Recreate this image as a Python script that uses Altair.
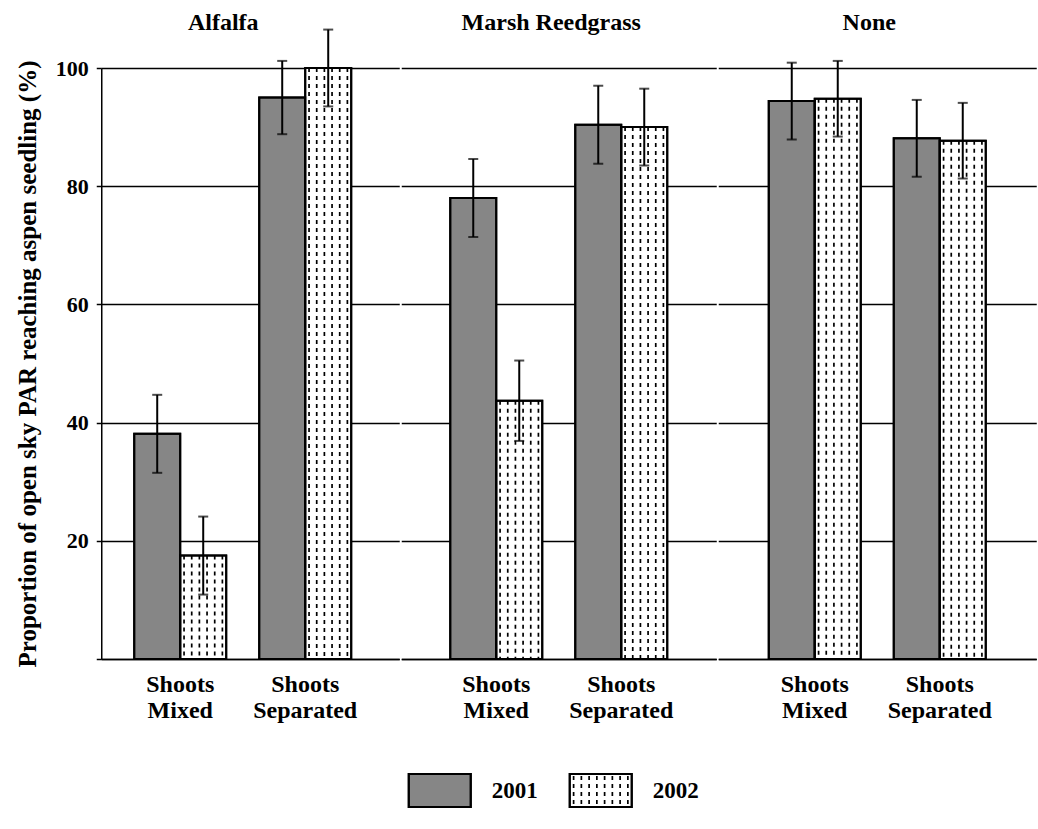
import altair as alt
import pandas as pd

# ---- data -------------------------------------------------------------
groups = ["Alfalfa", "Marsh Reedgrass", "None"]
treatments = ["Shoots Mixed", "Shoots Separated"]
years = ["2001", "2002"]

# mean proportion of open-sky PAR (%), ordered group -> treatment -> year
par_mean = [38.1, 17.5, 95.0, 100.0,
            78.0, 43.7, 90.4, 90.0,
            94.4, 94.8, 88.1, 87.7]
# standard error of each mean
par_se = [6.6, 6.6, 6.2, 6.5,
          6.6, 6.8, 6.6, 6.5,
          6.5, 6.4, 6.5, 6.4]

rows = []
i = 0
for g in groups:
    for t in treatments:
        for yr in years:
            rows.append({"group": g, "treatment": t, "year": yr,
                         "mean": par_mean[i],
                         "lo": par_mean[i] - par_se[i],
                         "hi": par_mean[i] + par_se[i]})
            i += 1
bars = pd.DataFrame(rows)

# hatch columns for the 2002 fill: the right half of a 12-slot band
N_SLOTS = 12
hatch = pd.DataFrame([
    {**r, "slot": s}
    for r in rows if r["year"] == "2002"
    for s in range(N_SLOTS // 2, N_SLOTS)
])

FONT = "Liberation Serif"
GRAY = "#868686"
fill_scale = alt.Scale(domain=years, range=[GRAY, "white"])
Y_TITLE = "Proportion of open sky PAR reaching aspen seedling (%)"
HATCH_DASH = [4, 4]
HATCH_WIDTH = 1.7


def panel(group, width, pad_outer, align, header_x, first):
    d = bars[bars["group"] == group]
    h = hatch[hatch["group"] == group]

    x_axis = alt.Axis(title=None, labelAngle=0, ticks=False,
                      labelExpr="split(datum.label, ' ')",
                      labelFont=FONT, labelFontSize=24, labelFontWeight="bold",
                      labelColor="black", labelLineHeight=26, labelPadding=13,
                      domainColor="black", domainWidth=1.5)
    x = alt.X("treatment:N", sort=treatments, axis=x_axis,
              scale=alt.Scale(paddingInner=0.264, paddingOuter=pad_outer,
                              align=align))
    if first:
        y_axis = alt.Axis(values=[0, 20, 40, 60, 80, 100],
                          labelExpr="datum.value == 0 ? '' : datum.label",
                          labelFont=FONT, labelFontSize=22,
                          labelFontWeight="bold", labelColor="black",
                          labelPadding=8, tickSize=5, tickColor="black",
                          tickWidth=1.5, domainColor="black", domainWidth=1.5,
                          grid=True, gridColor="black", gridWidth=1.3,
                          title=Y_TITLE, titleFont=FONT, titleFontSize=25,
                          titleFontWeight="bold", titleColor="black",
                          titlePadding=15)
    else:
        y_axis = alt.Axis(values=[0, 20, 40, 60, 80, 100], labels=False,
                          ticks=False, domain=False, grid=True,
                          gridColor="black", gridWidth=1.3, title=None)
    y_scale = alt.Scale(domain=[0, 100], nice=False)

    def Y(field):
        return alt.Y(field, type="quantitative", scale=y_scale, axis=y_axis)

    x_off = alt.XOffset("year:N", sort=years,
                        scale=alt.Scale(paddingInner=0, paddingOuter=0))

    base = alt.Chart(d)
    bar_fill = base.mark_bar(stroke="black", strokeWidth=2).encode(
        x=x, y=Y("mean"), xOffset=x_off,
        fill=alt.Fill("year:N", scale=fill_scale, legend=None))

    dashes = alt.Chart(h).mark_rule(
        stroke="black", strokeWidth=HATCH_WIDTH, strokeDash=HATCH_DASH).encode(
        x=x, y=Y("mean"), y2=alt.datum(0),
        xOffset=alt.XOffset("slot:N",
                            scale=alt.Scale(domain=list(range(N_SLOTS)),
                                            paddingInner=0, paddingOuter=0)))

    outline = base.mark_bar(fillOpacity=0, stroke="black",
                            strokeWidth=2).encode(x=x, y=Y("mean"),
                                                  xOffset=x_off)

    err = base.mark_rule(stroke="black", strokeWidth=2).encode(
        x=x, y=Y("lo"), y2="hi", xOffset=x_off)
    cap_lo = base.mark_tick(color="black", size=10, thickness=2).encode(
        x=x, y=Y("lo"), xOffset=x_off)
    cap_hi = base.mark_tick(color="black", size=10, thickness=2).encode(
        x=x, y=Y("hi"), xOffset=x_off)

    header = alt.Chart(pd.DataFrame({"group": [group]})).mark_text(
        font=FONT, fontSize=24, fontWeight="bold", color="black",
        baseline="alphabetic", align="center").encode(
        text="group:N", x=alt.value(header_x), y=alt.value(-38))

    return alt.layer(bar_fill, dashes, outline, err, cap_lo, cap_hi,
                     header).resolve_scale(xOffset="independent").properties(
        width=width, height=591)


p1 = panel("Alfalfa", 298, 0.324, 0.407, 122, True)
p2 = panel("Marsh Reedgrass", 315, 0.392, 0.5, 150, False)
p3 = panel("None", 318, 0.404, 0.5, 151, False)
top = alt.hconcat(p1, p2, p3, spacing=0)

# ---- legend row ---------------------------------------------------------
LEG_SLOTS = 8
legend_df = pd.DataFrame({"year": years})
legend_hatch = pd.DataFrame({"year": ["2002"] * LEG_SLOTS,
                             "slot": list(range(LEG_SLOTS))})
lx = alt.X("year:N", sort=years, axis=None,
           scale=alt.Scale(paddingInner=0, paddingOuter=0.115, align=0))

swatch = alt.Chart(legend_df).mark_bar(
    width=62, xOffset=-30, stroke="black", strokeWidth=2).encode(
    x=lx, y=alt.value(0), y2=alt.value(33),
    fill=alt.Fill("year:N", scale=fill_scale, legend=None))
swatch_hatch = alt.Chart(legend_hatch).mark_rule(
    stroke="black", strokeWidth=HATCH_WIDTH, strokeDash=HATCH_DASH).encode(
    x=lx, y=alt.value(2), y2=alt.value(31),
    xOffset=alt.XOffset("slot:N",
                        scale=alt.Scale(domain=list(range(LEG_SLOTS)),
                                        range=[19.5, 81.5],
                                        paddingInner=0, paddingOuter=0)))
swatch_outline = alt.Chart(legend_df).mark_bar(
    width=62, xOffset=-30, fillOpacity=0, stroke="black",
    strokeWidth=2).encode(x=lx, y=alt.value(0), y2=alt.value(33))
labels = alt.Chart(legend_df).mark_text(
    align="left", baseline="middle", dx=22, font=FONT, fontSize=23,
    fontWeight="bold", color="black").encode(
    x=lx, y=alt.value(17), text="year:N")

legend = alt.layer(swatch, swatch_hatch, swatch_outline, labels).resolve_scale(
    xOffset="independent").properties(width=359, height=33)

chart = alt.vconcat(top, legend, spacing=49, center=True).configure_view(
    stroke="transparent").properties(
    background="white",
    padding={"left": 14, "top": 10, "right": 0, "bottom": 5})

chart.save("out.html", embed_options={"renderer": "svg", "actions": False})
